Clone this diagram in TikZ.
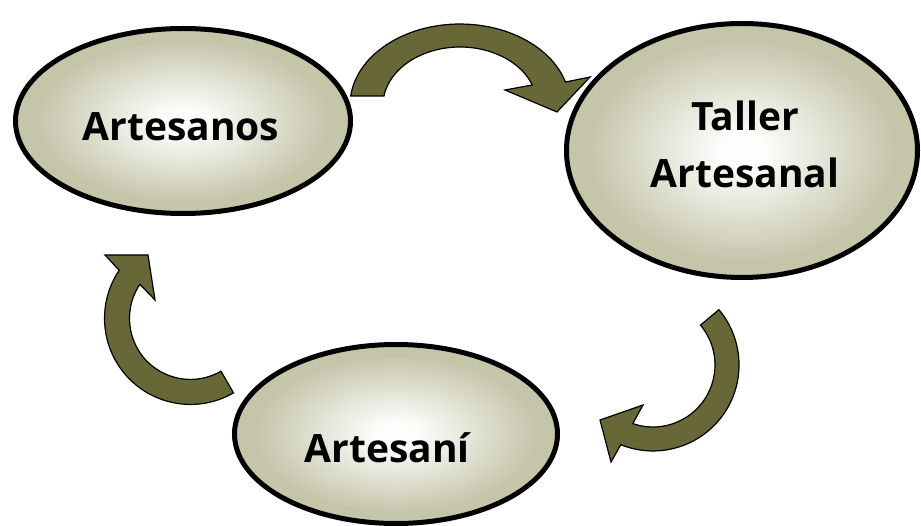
\documentclass[tikz,border=0pt]{standalone}
\usepackage{fontspec}
\setmainfont{Open Sans}
\usetikzlibrary{shapes.geometric}

\definecolor{ovaledge}{RGB}{197,197,170}
\definecolor{arrowfill}{RGB}{103,103,56}

% soft white glow in the middle of each oval
\pgfdeclareradialshading{ovalglow}{\pgfpoint{0bp}{0bp}}{%
  color(0bp)=(white); color(3bp)=(white!97!ovaledge);
  color(22bp)=(ovaledge); color(50bp)=(ovaledge)}

\tikzset{
  oval/.style={ellipse, draw=black, line width=5pt, shading=ovalglow,
    inner sep=0pt},
  ovallabel/.style={font=\fontsize{39}{57}\selectfont\bfseries,
    align=center, inner sep=0pt, anchor=base},
  blockarrow/.style={fill=arrowfill, draw=black, line width=1.2pt,
    line join=miter},
}

\begin{document}
\begin{tikzpicture}[x=1pt,y=1pt]
\useasboundingbox (0,0) rectangle (921,-526);

% curved block arrows
\draw[blockarrow] (350.7,-96)
  arc[start angle=173.6, end angle=16.5, x radius=110, y radius=81]
  -- (590,-77) -- (557,-112) -- (505,-90) -- (532.3,-85)
  arc[start angle=20.2, end angle=171, x radius=77, y radius=58] -- cycle;

\draw[blockarrow] (718.9,-309.7)
  arc[start angle=40, end angle=-112, radius=86]
  -- (611,-462) -- (600,-420) -- (643,-405) -- (632.8,-423.6)
  arc[start angle=-109, end angle=40, radius=62] -- cycle;

\draw[blockarrow] (233.5,-392.9)
  arc[start angle=-60, end angle=-214, radius=86]
  -- (105,-255) -- (148,-255) -- (155,-300) -- (139.9,-284.3)
  arc[start angle=146, end angle=300, radius=61] -- cycle;

% ovals
\node[oval, minimum width=335pt, minimum height=185pt] (artesanos) at (183,-121) {};
\node[oval, minimum width=351pt, minimum height=254pt] (taller) at (742,-150.5) {};
\node[oval, minimum width=323pt, minimum height=179pt] (artesania) at (396,-434) {};

% labels (base anchor sits on the last line)
\node[ovallabel] (tArtesanos) at (181,-141) {Artesanos};
\node[ovallabel] (tTaller) at (745,-188) {Taller\\Artesanal};
\node[ovallabel] (tArtesania) at (387,-462) {Artesaní};
\end{tikzpicture}
\end{document}
